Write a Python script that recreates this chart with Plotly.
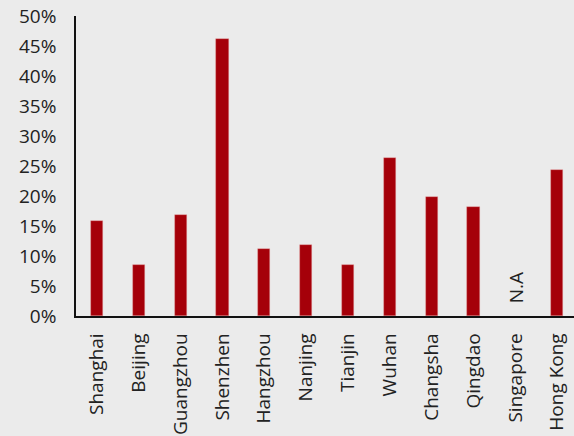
import plotly.graph_objects as go

cities = ["Shanghai", "Beijing", "Guangzhou", "Shenzhen", "Hangzhou", "Nanjing",
          "Tianjin", "Wuhan", "Changsha", "Qingdao", "Singapore", "Hong Kong"]
values = [0.158, 0.085, 0.168, 0.462, 0.111, 0.118, 0.085, 0.264, 0.198, 0.181, None, 0.244]
na_label = "N.A"
na_city = "Singapore"
na_pos = 0.047

bg = "#ebebeb"
bar_color = "#a50009"
font_family = "Open Sans, DejaVu Sans, sans-serif"

fig = go.Figure(go.Bar(
    x=cities, y=values, width=0.29,
    marker=dict(color=bar_color, line=dict(color="rgba(230,150,150,0.6)", width=0.6)),
))

fig.add_annotation(x=na_city, y=na_pos, text=na_label, textangle=-90, showarrow=False,
                   font=dict(family=font_family, size=19, color="#222"),
                   xanchor="center", yanchor="middle")

fig.update_layout(
    width=574, height=436,
    paper_bgcolor=bg, plot_bgcolor=bg,
    margin=dict(l=76, r=0, t=16, b=120),
    showlegend=False,
    font=dict(family=font_family, size=19, color="#222"),
    bargap=0,
)
fig.update_xaxes(
    type="category", range=[-0.5, 11.4], tickangle=-90,
    showline=True, linecolor="#111", linewidth=1.5,
    showgrid=False, ticks="", automargin=False, ticklabelstandoff=8,
)
fig.update_yaxes(
    range=[0, 0.5], dtick=0.05, tickformat=".0%",
    showline=True, linecolor="#111", linewidth=1.5,
    showgrid=False, zeroline=False, ticks="", automargin=False, ticklabelstandoff=14,
)

fig.write_html("out.html")
